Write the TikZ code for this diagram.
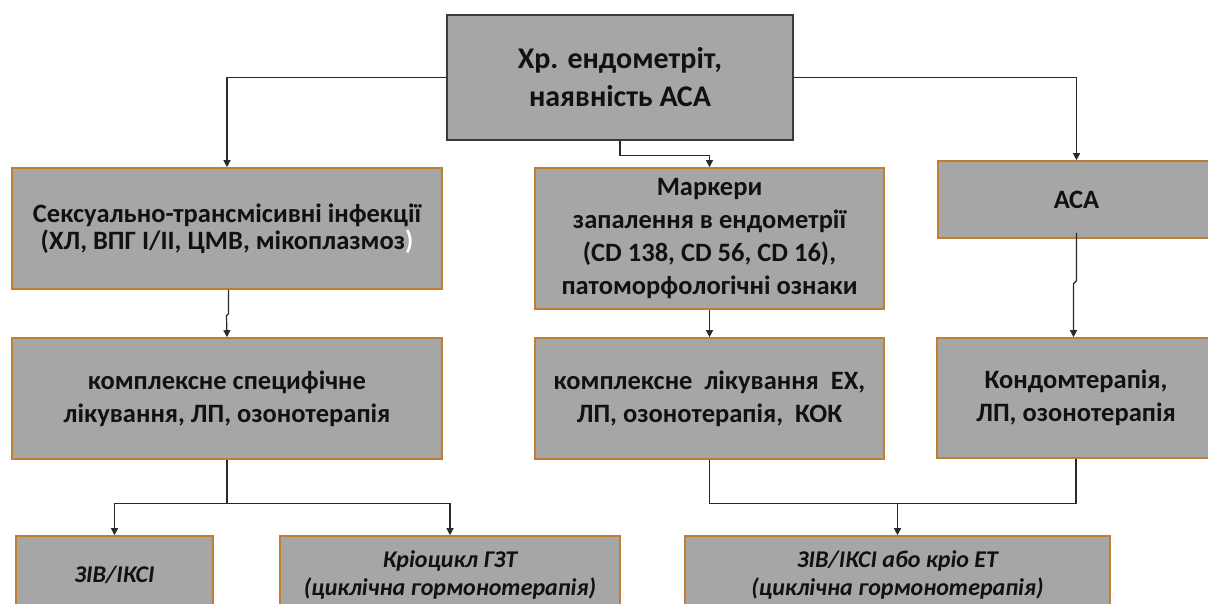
\documentclass[tikz,border=0pt]{standalone}
\usepackage{fontspec}
\setmainfont{Carlito}
\usetikzlibrary{arrows.meta}
\definecolor{boxfill}{HTML}{A6A6A6}
\definecolor{boxedge}{HTML}{C07E35}
\definecolor{topedge}{HTML}{3A3A3A}
\definecolor{linecol}{HTML}{2A2A2A}
\definecolor{txt}{HTML}{111111}
\tikzset{
  box/.style={draw=boxedge, line width=1.6pt, fill=boxfill, inner sep=0pt, align=center,
    text=txt, font=\fontsize{26.5}{33}\selectfont\bfseries},
  topbox/.style={box, draw=topedge, line width=1.4pt, font=\fontsize{30}{38}\selectfont\bfseries},
  lowbox/.style={box, font=\fontsize{24}{28}\selectfont\bfseries\itshape},
  conn/.style={draw=linecol, line width=1.2pt},
  arr/.style={conn, -{Triangle[length=7pt,width=7pt]}},
}
\begin{document}
\begin{tikzpicture}[x=1pt,y=-1pt]
\useasboundingbox (0,0) rectangle (1208,603);
\clip (0,0) rectangle (1208,603);
% boxes
\node[topbox, minimum width=346pt, minimum height=125pt] (top) at (620,77.5) {Хр. ендометріт,\\наявність АСА};
\node[box, minimum width=430pt, minimum height=121pt, font=\fontsize{26.5}{27}\selectfont\bfseries] (sti) at (227,228.5)
  {Сексуально-трансмісивні інфекції\\(ХЛ, ВПГ І/ІІ, ЦМВ, мікоплазмоз\textcolor{white}{)}};
\node[box, minimum width=349pt, minimum height=141pt] (mark) at (709.5,238.5)
  {Маркери\\запалення в ендометрії\\(CD 138, CD 56, CD 16),\\патоморфологічні ознаки};
\node[box, minimum width=277pt, minimum height=77pt] (aca) at (1076.5,199.5) {АСА};
\node[box, minimum width=430pt, minimum height=121pt] (r2a) at (227,398.5)
  {комплексне специфічне\\лікування, ЛП, озонотерапія};
\node[box, minimum width=349pt, minimum height=121pt] (r2b) at (709.5,398.5)
  {комплексне\ \ лікування\ \ ЕХ,\\ЛП, озонотерапія,\ \ КОК};
\node[box, minimum width=278pt, minimum height=120pt] (r2c) at (1076,398) {Кондомтерапія,\\ЛП, озонотерапія};
\node[lowbox, minimum width=197pt, minimum height=78pt] (b1) at (114.5,575) {ЗІВ/ІКСІ};
\node[lowbox, minimum width=340pt, minimum height=78pt] (b2) at (450,575) {Кріоцикл ГЗТ\\(циклічна гормонотерапія)};
\node[lowbox, minimum width=425pt, minimum height=78pt] (b3) at (897.5,575) {ЗІВ/ІКСІ або кріо ЕТ\\(циклічна гормонотерапія)};
% connectors
\draw[arr] (top.west) -| (sti.north);
\draw[arr] (top.east) -| (aca.north);
\draw[arr] (top.south) -- ++(0,15) -| (mark.north);
\draw[arr] ([xshift=1.5pt]sti.south) -- ++(0,24) -- ++(-2,2) -- (sti.south |- r2a.north);
\draw[arr] (mark.south) -- (r2b.north);
\draw[arr] ([yshift=6pt]aca.south) -- ++(0,48) -- ++(-3,3) -- ([xshift=-3pt]aca.south |- r2c.north);
\draw[conn] (r2a.south) -- ++(0,44) coordinate (ja);
\draw[arr] (ja) -| (b1.north);
\draw[arr] (ja) -| (b2.north);
\draw[conn] (r2b.south) -- ++(0,43.5) coordinate (jb) -| (r2c.south);
\draw[arr] (jb -| b3.north) -- (b3.north);
\end{tikzpicture}
\end{document}
